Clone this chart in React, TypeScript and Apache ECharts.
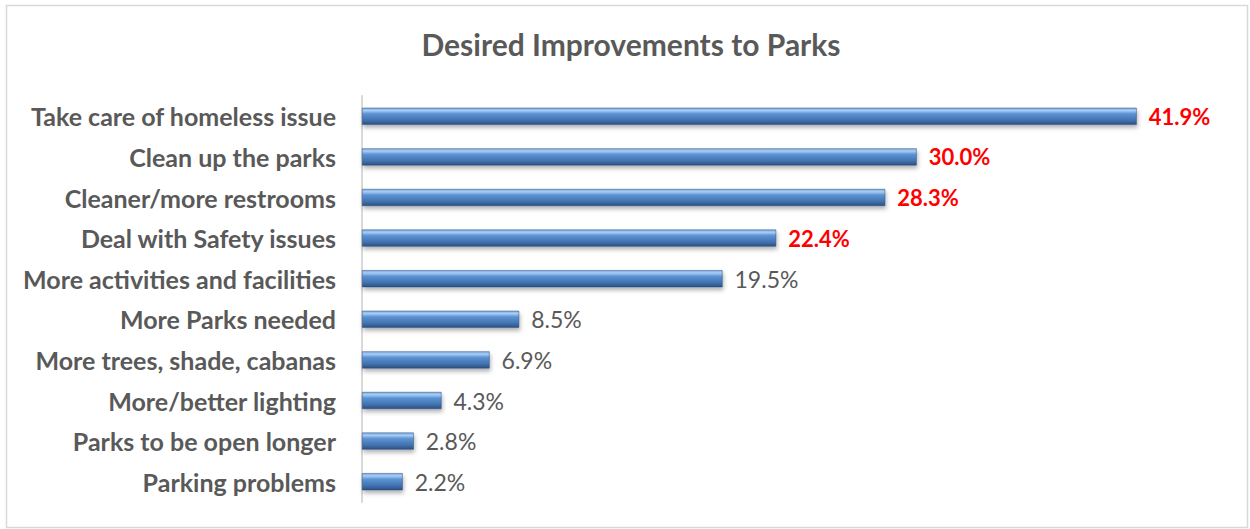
import React, { useEffect, useRef } from "react";
import * as echarts from "echarts";

const categories = [
  "Take care of homeless issue",
  "Clean up the parks",
  "Cleaner/more restrooms",
  "Deal with Safety issues",
  "More activities and facilities",
  "More Parks needed",
  "More trees, shade, cabanas",
  "More/better lighting",
  "Parks to be open longer",
  "Parking problems",
];
const values = [41.9, 30.0, 28.3, 22.4, 19.5, 8.5, 6.9, 4.3, 2.8, 2.2];
const highlighted = [true, true, true, true, false, false, false, false, false, false];
const title = "Desired Improvements to Parks";

const FONT = "Lato, 'Open Sans', sans-serif";

export default function App() {
  const ref = useRef<HTMLDivElement>(null);
  useEffect(() => {
    document.body.style.margin = "0";
    const chart = echarts.init(ref.current!, undefined, { renderer: "svg" });
    const barColor = new echarts.graphic.LinearGradient(0, 0, 0, 1, [
      { offset: 0, color: "#7aa9e0" },
      { offset: 0.15, color: "#a9cdf4" },
      { offset: 0.35, color: "#5b93d4" },
      { offset: 0.75, color: "#4271ad" },
      { offset: 1, color: "#2a4f80" },
    ]);
    chart.setOption({
      animation: false,
      backgroundColor: "#ffffff",
      title: {
        text: title,
        left: 626,
        textAlign: "center",
        top: 24,
        textStyle: { fontFamily: FONT, fontSize: 30, fontWeight: "bold", color: "#595959" },
      },
      graphic: [
        {
          type: "rect",
          shape: { x: 6.5, y: 5.5, width: 1241, height: 522 },
          style: { fill: "none", stroke: "#d9d9d9", lineWidth: 1.5 },
          silent: true,
        },
      ],
      grid: { left: 362, top: 96, height: 406, width: 832, containLabel: false },
      xAxis: {
        type: "value",
        min: 0,
        max: 45,
        show: false,
      },
      yAxis: {
        type: "category",
        inverse: true,
        data: categories,
        axisTick: { show: false },
        axisLine: { show: true, lineStyle: { color: "#d9d9d9", width: 2 } },
        axisLabel: {
          margin: 26,
          fontFamily: FONT,
          fontSize: 25,
          fontWeight: "bold",
          color: "#595959",
        },
      },
      series: [
        {
          type: "bar",
          barWidth: 17,
          data: values.map((v, i) => ({
            value: v,
            label: highlighted[i]
              ? { color: "#ff0000", fontWeight: "bold", fontSize: 22 }
              : { color: "#595959", fontWeight: "normal", fontSize: 23 },
          })),
          itemStyle: {
            color: barColor,
            borderColor: "#2a4f80",
            borderWidth: 0.5,
            shadowBlur: 4,
            shadowOffsetY: 3,
            shadowOffsetX: 1,
            shadowColor: "rgba(0,0,0,0.3)",
          },
          label: {
            show: true,
            position: "right",
            distance: 12,
            fontFamily: FONT,
            fontSize: 22,
            formatter: (p: any) => p.value.toFixed(1) + "%",
          },
        },
      ],
    });
    return () => chart.dispose();
  }, []);
  return <div ref={ref} style={{ width: 1250, height: 529 }} />;
}
